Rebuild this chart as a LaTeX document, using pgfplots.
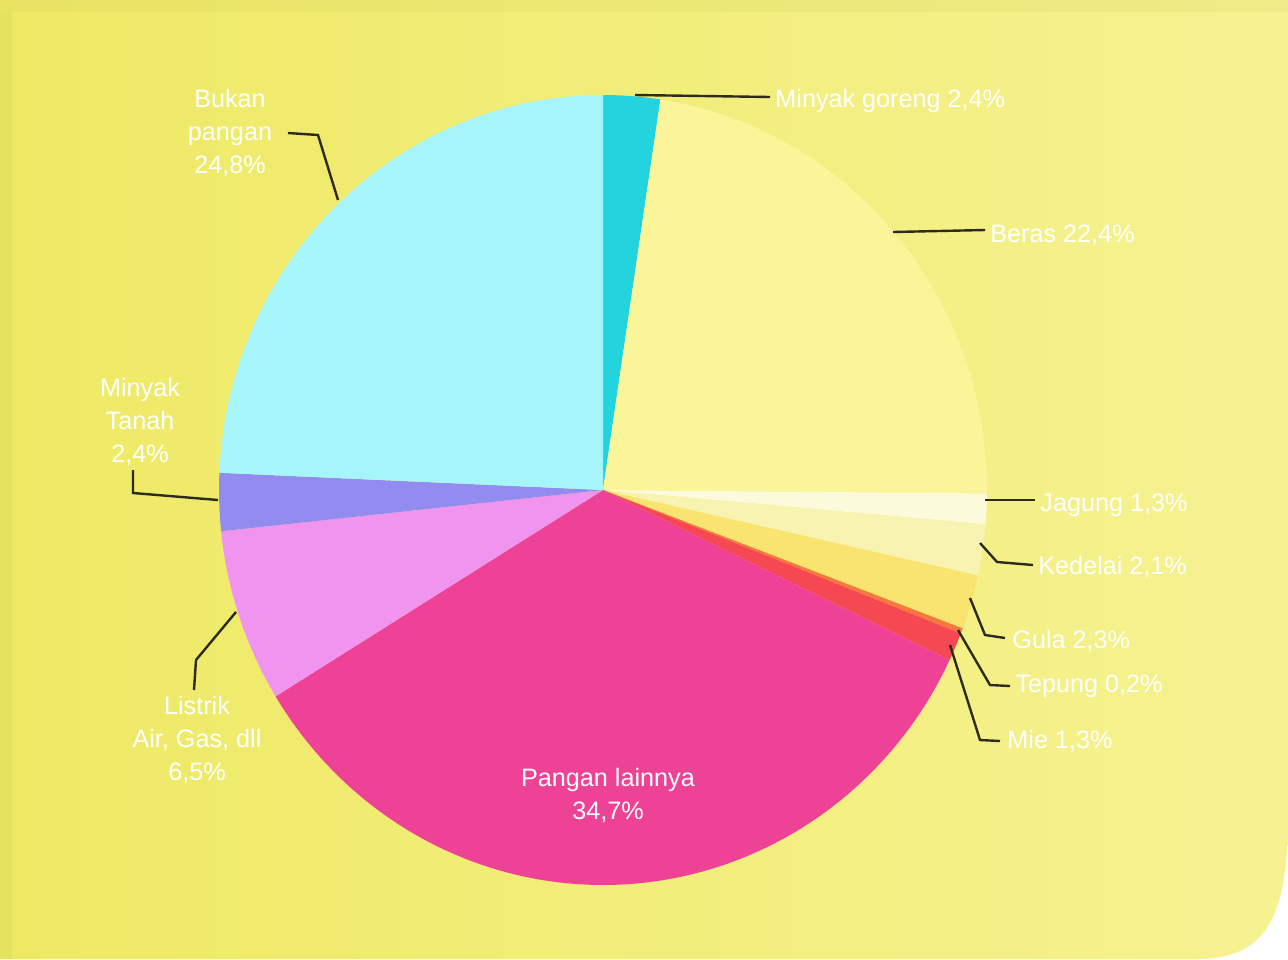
\documentclass[border=0pt]{standalone}
\usepackage{pgfplots}
\pgfplotsset{compat=1.18}
\usepgfplotslibrary{polar}
\usepackage{fontspec}
\setmainfont{Liberation Sans}
\definecolor{bgY}{RGB}{238,233,100}
\definecolor{bgY2}{RGB}{246,242,145}
\definecolor{cMG}{RGB}{35,212,222}
\definecolor{cBeras}{RGB}{249,245,152}
\definecolor{cJag}{RGB}{251,250,218}
\definecolor{cKed}{RGB}{249,243,178}
\definecolor{cGula}{RGB}{250,228,112}
\definecolor{cTep}{RGB}{246,120,60}
\definecolor{cMie}{RGB}{246,72,82}
\definecolor{cPL}{RGB}{238,66,150}
\definecolor{cLis}{RGB}{240,148,240}
\definecolor{cMT}{RGB}{146,140,240}
\definecolor{cBP}{RGB}{166,245,250}
\definecolor{lead}{RGB}{45,42,30}
\begin{document}
\begin{tikzpicture}[x=0.5pt,y=-0.5pt]
\fill[white] (0,0) rectangle (1288,959);
\shade[left color=bgY, right color=bgY2] (0,0) -- (1288,0) -- (1288,815) .. controls (1288,925) and (1262,959) .. (1195,959) -- (0,959) -- cycle;
\fill[bgY!85!black, opacity=0.15] (0,0) rectangle (1288,12);
\fill[bgY!85!black, opacity=0.2] (0,12) rectangle (12,959);
\begin{polaraxis}[at={(301.5pt,-245pt)}, anchor=origin, scale only axis, width=384pt, height=395pt,
  hide axis, ymin=0, ymax=1, clip=false, unit vector ratio=]
\addplot[fill=cMG, draw=none, domain=81.4:90, samples=10] {1} -- (axis cs:0,0) -- cycle;
\addplot[fill=cBeras, draw=none, domain=-0.5:81.4, samples=60] {1} -- (axis cs:0,0) -- cycle;
\addplot[fill=cJag, draw=none, domain=-5:-0.5, samples=6] {1} -- (axis cs:0,0) -- cycle;
\addplot[fill=cKed, draw=none, domain=-12.5:-5, samples=8] {1} -- (axis cs:0,0) -- cycle;
\addplot[fill=cGula, draw=none, domain=-20.5:-12.5, samples=8] {1} -- (axis cs:0,0) -- cycle;
\addplot[fill=cTep, draw=none, domain=-21.3:-20.5, samples=3] {1} -- (axis cs:0,0) -- cycle;
\addplot[fill=cMie, draw=none, domain=-25.5:-21.3, samples=5] {1} -- (axis cs:0,0) -- cycle;
\addplot[fill=cPL, draw=none, domain=-148.5:-25.5, samples=90] {1} -- (axis cs:0,0) -- cycle;
\addplot[fill=cLis, draw=none, domain=-174:-148.5, samples=20] {1} -- (axis cs:0,0) -- cycle;
\addplot[fill=cMT, draw=none, domain=-182.5:-174, samples=8] {1} -- (axis cs:0,0) -- cycle;
\addplot[fill=cBP, draw=none, domain=-270:-182.5, samples=60] {1} -- (axis cs:0,0) -- cycle;
\end{polaraxis}
% leader lines
\begin{scope}[lead, line width=1.2pt]
\draw (635,95) -- (770,97);
\draw (893,232) -- (985,230);
\draw (985,500) -- (1035,500);
\draw (980,543) -- (997,562) -- (1033,565);
\draw (970,598) -- (985,635) -- (1005,638);
\draw (958,630) -- (990,685) -- (1010,686);
\draw (950,645) -- (980,740) -- (1000,741);
\draw (236,612) -- (196,660) -- (194,690);
\draw (218,500) -- (133,493) -- (133,470);
\draw (338,200) -- (318,135) -- (288,133);
\end{scope}
% labels
\begin{scope}[every node/.style={text=white, font=\fontsize{12.6}{16.5}\selectfont, inner sep=0pt}]
\node[anchor=west] at (775,101) {Minyak goreng 2,4\%};
\node[anchor=west] at (990,235) {Beras 22,4\%};
\node[anchor=west] at (1040,505) {Jagung 1,3\%};
\node[anchor=west] at (1038,567) {Kedelai 2,1\%};
\node[anchor=west] at (1012,641) {Gula 2,3\%};
\node[anchor=west] at (1015,686) {Tepung 0,2\%};
\node[anchor=west] at (1007,741) {Mie 1,3\%};
\node[align=center] at (608,795) {Pangan lainnya\\34,7\%};
\node[align=center] at (197,740) {Listrik\\Air, Gas, dll\\6,5\%};
\node[align=center] at (140,422) {Minyak\\Tanah\\2,4\%};
\node[align=center] at (230,133) {Bukan\\pangan\\24,8\%};
\end{scope}
\end{tikzpicture}
\end{document}
